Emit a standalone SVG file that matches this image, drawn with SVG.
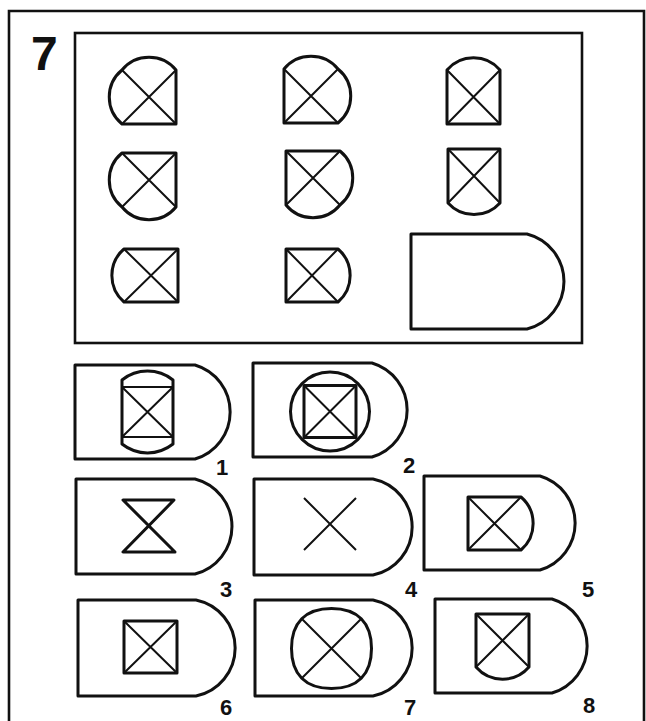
<svg xmlns="http://www.w3.org/2000/svg" width="646" height="721" viewBox="0 0 646 721">
<style>
.frame{fill:none;stroke:#111;stroke-width:2.6}
.tile{fill:none;stroke:#111;stroke-width:3;stroke-linejoin:round}
.fig{fill:none;stroke:#111;stroke-width:3;stroke-linejoin:round}
.x{fill:none;stroke:#111;stroke-width:2}
.num{font-family:"Liberation Sans",Arial,sans-serif;font-weight:bold;fill:#111}
.lbl{font-size:22px;text-anchor:middle}
</style>
<rect width="646" height="721" fill="#fff"/>
<g id="outer-frame"><path class="frame" d="M9,721 V11 H644 V721"/></g>
<text id="problem-number" class="num" x="31" y="70" font-size="48">7</text>
<g id="matrix">
<rect class="frame" x="75" y="33" width="507" height="310"/>
<g id="cell-1-1"><path class="fig" d="M122,70 A35,35 0 0 1 176,70 L176,124 L122,124 A35,35 0 0 1 122,70 Z"/><path class="x" d="M122,70 L176,124 M176,70 L122,124"/></g>
<g id="cell-1-2"><path class="fig" d="M284,69 A35,35 0 0 1 338,69 A35,35 0 0 1 338,123 L284,123 Z"/><path class="x" d="M284,69 L338,123 M338,69 L284,123"/></g>
<g id="cell-1-3"><path class="fig" d="M447,70 A35,35 0 0 1 500,70 L500,124 L447,124 Z"/><path class="x" d="M447,70 L500,124 M500,70 L447,124"/></g>
<g id="cell-2-1"><path class="fig" d="M122,153 L176,153 L176,207 A35,35 0 0 1 122,207 A35,35 0 0 1 122,153 Z"/><path class="x" d="M122,153 L176,207 M176,153 L122,207"/></g>
<g id="cell-2-2"><path class="fig" d="M286,151 L340,151 A35,35 0 0 1 340,205 A35,35 0 0 1 286,205 Z"/><path class="x" d="M286,151 L340,205 M340,151 L286,205"/></g>
<g id="cell-2-3"><path class="fig" d="M448,149 L500,149 L500,203 A35,35 0 0 1 448,203 Z"/><path class="x" d="M448,149 L500,203 M500,149 L448,203"/></g>
<g id="cell-3-1"><path class="fig" d="M124,249 L178,249 L178,302 L124,302 A35,35 0 0 1 124,249 Z"/><path class="x" d="M124,249 L178,302 M178,249 L124,302"/></g>
<g id="cell-3-2"><path class="fig" d="M286,249 L338,249 A35,35 0 0 1 338,302 L286,302 Z"/><path class="x" d="M286,249 L338,302 M338,249 L286,302"/></g>
<g id="cell-3-3"><path class="tile" d="M411,234 H527 A49,49 0 0 1 527,329 H411 Z"/></g>
</g>
<g id="options">
<g id="option-1"><path class="tile" d="M75,365 H195 A49,49 0 0 1 195,459 H75 Z"/><path class="fig" d="M122,380 A41,41 0 0 1 173,380 L173,444 A41,41 0 0 1 122,444 Z"/><path class="x" stroke-width="2.5" d="M122,387 H173 M122,437 H173"/><path class="x" d="M122,387 L173,437 M173,387 L122,437"/><text class="num lbl" x="222" y="475">1</text></g>
<g id="option-2"><path class="tile" d="M253,363 H372 A49,49 0 0 1 372,457 H253 Z"/><circle class="fig" cx="330" cy="411.5" r="39.5"/><rect class="fig" x="304" y="385.5" width="52" height="52" stroke-width="2.6"/><path class="x" d="M304,385.5 L356,437.5 M356,385.5 L304,437.5"/><text class="num lbl" x="409" y="473">2</text></g>
<g id="option-3"><path class="tile" d="M76,479 H195 A49,49 0 0 1 195,574 H76 Z"/><path class="fig" stroke-width="2.5" d="M123,500 H174 L123,552 H175 Z"/><text class="num lbl" x="226" y="597">3</text></g>
<g id="option-4"><path class="tile" d="M254,479 H373 A49,49 0 0 1 373,575 H254 Z"/><path class="x" d="M304,498 L356,550 M356,498 L304,550"/><text class="num lbl" x="411" y="597">4</text></g>
<g id="option-5"><path class="tile" d="M424,476 H540 A49,49 0 0 1 540,570 H424 Z"/><path class="fig" d="M468,497 L521,497 A35,35 0 0 1 521,550 L468,550 Z"/><path class="x" d="M468,497 L521,550 M521,497 L468,550"/><text class="num lbl" x="588" y="597">5</text></g>
<g id="option-6"><path class="tile" d="M78,600 H196 A49,49 0 0 1 196,696 H78 Z"/><rect class="fig" x="124" y="621" width="53" height="52"/><path class="x" d="M124,621 L177,673 M177,621 L124,673"/><text class="num lbl" x="226" y="715">6</text></g>
<g id="option-7"><path class="tile" d="M255,600 H373 A49,49 0 0 1 373,696 H255 Z"/><path class="fig" d="M331.5,608.5 C357.5,608.5 371.5,622.5 371.5,648.5 C371.5,674.5 357.5,688.5 331.5,688.5 C305.5,688.5 291.5,674.5 291.5,648.5 C291.5,622.5 305.5,608.5 331.5,608.5 Z"/><path class="x" d="M301.5,618.5 L361.5,678.5 M361.5,618.5 L301.5,678.5"/><text class="num lbl" x="410" y="715">7</text></g>
<g id="option-8"><path class="tile" d="M435,599 H552 A49,49 0 0 1 552,693 H435 Z"/><path class="fig" d="M476,614 L529,614 L529,667 A35,35 0 0 1 476,667 Z"/><path class="x" d="M476,614 L529,667 M529,614 L476,667"/><text class="num lbl" x="589" y="713">8</text></g>
</g>
<g id="connectors"></g>
</svg>
